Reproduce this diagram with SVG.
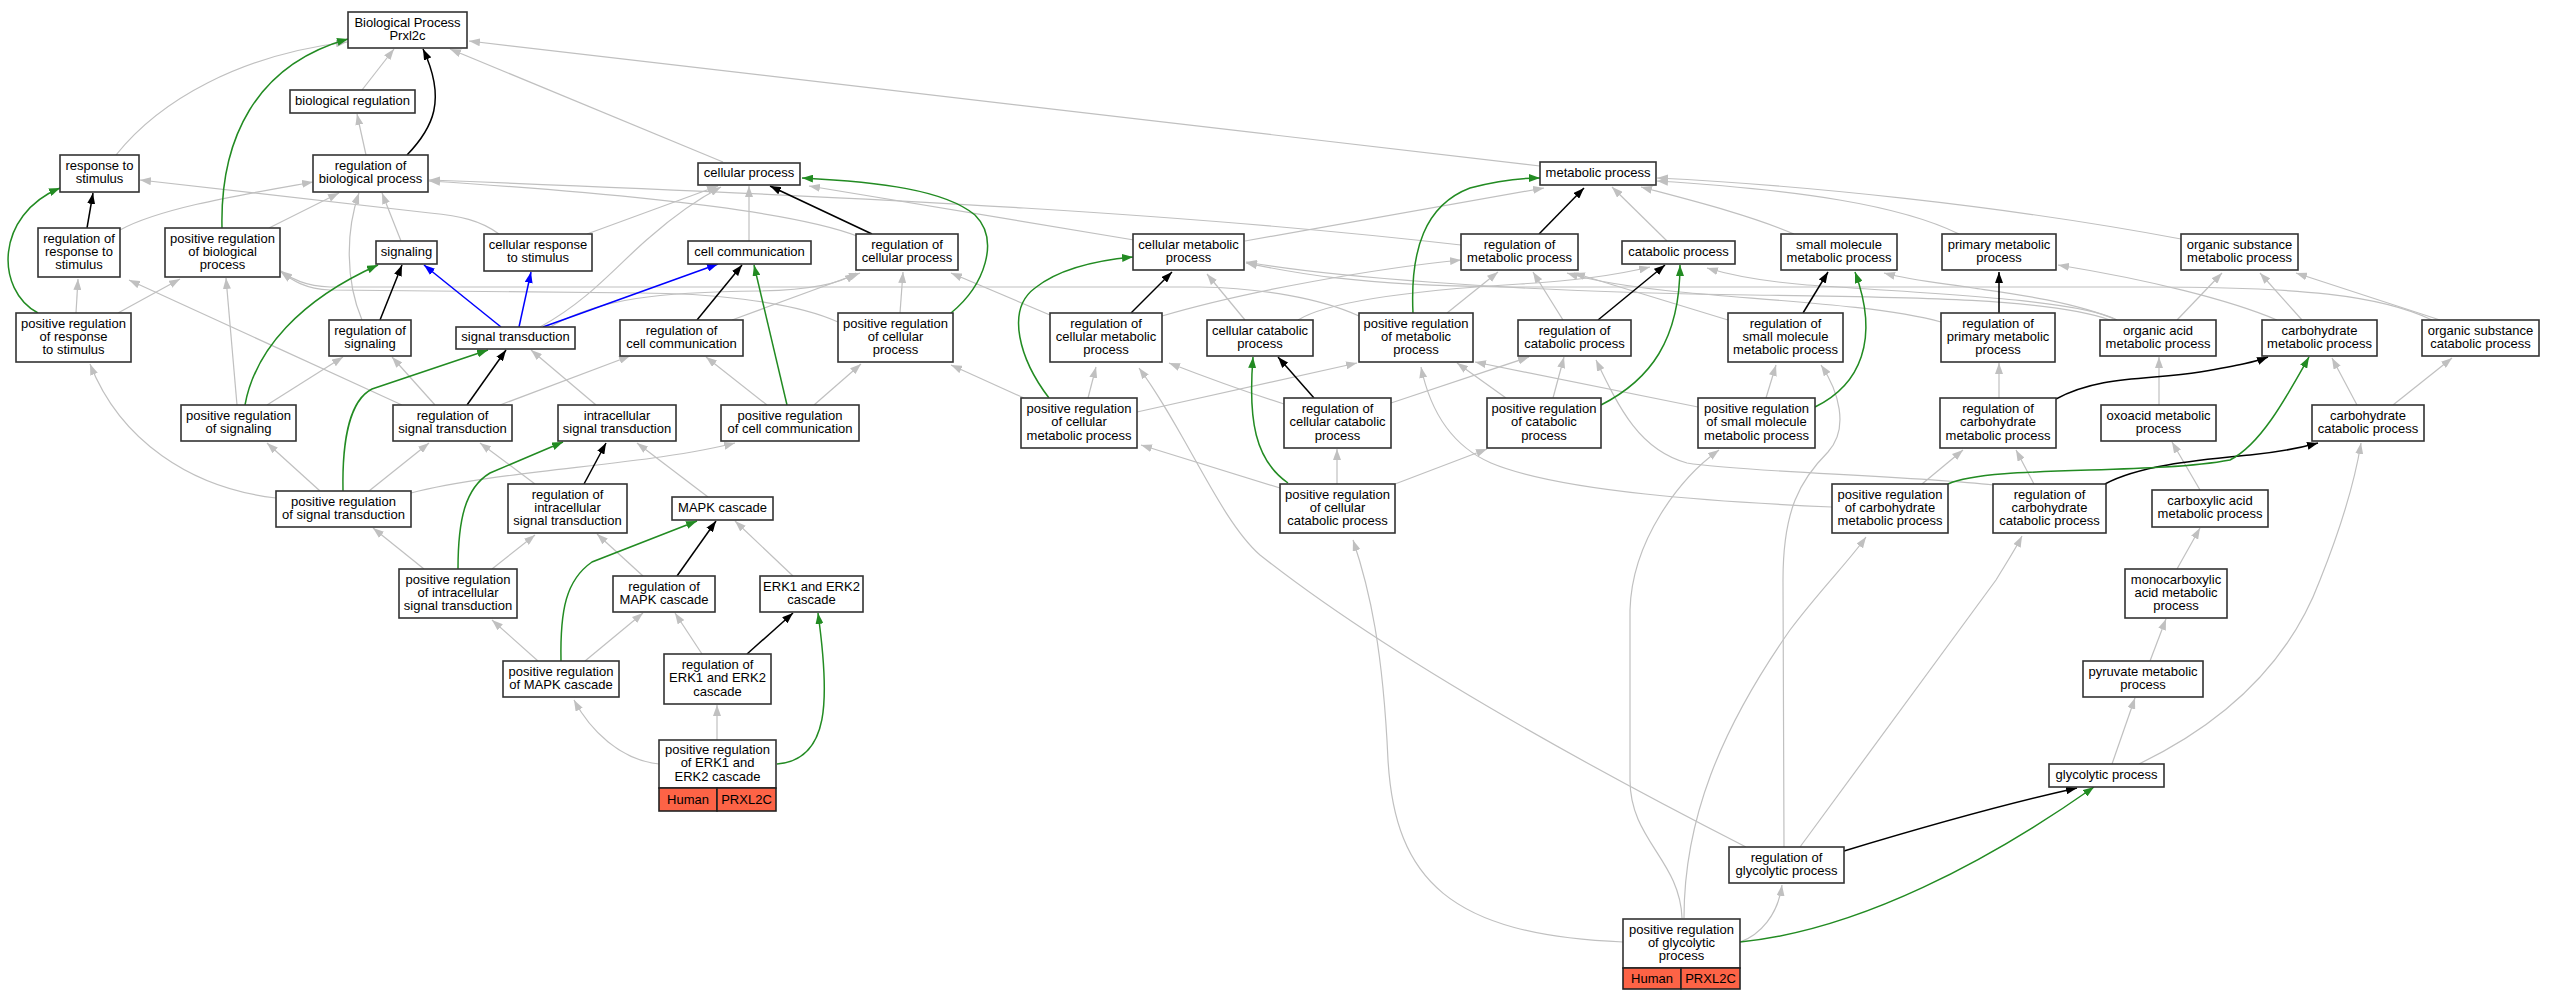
<svg xmlns="http://www.w3.org/2000/svg" width="2554" height="1000" viewBox="0 0 2554 1000">
<defs>
<style>
.n rect{fill:#fff;stroke:#333;stroke-width:1.6}
.n text{font-family:"Liberation Sans",Arial,sans-serif;font-size:13px;text-anchor:middle;fill:#000}
.n rect.lg{fill:#fd6346;stroke:#222}
.e path{fill:none}
.g{stroke:#c0c0c0;stroke-width:1.2;marker-end:url(#mg)}
.k{stroke:#000;stroke-width:1.5;marker-end:url(#mk)}
.gr{stroke:#228b22;stroke-width:1.5;marker-end:url(#mgr)}
.b{stroke:#0000ff;stroke-width:1.5;marker-end:url(#mb)}
</style>
<marker id="mg" viewBox="0 0 11 8" refX="11" refY="4" markerWidth="11" markerHeight="8" markerUnits="userSpaceOnUse" orient="auto"><path d="M0,0 L11,4 L0,8 z" fill="#c0c0c0"/></marker>
<marker id="mk" viewBox="0 0 11 8" refX="11" refY="4" markerWidth="11" markerHeight="8" markerUnits="userSpaceOnUse" orient="auto"><path d="M0,0 L11,4 L0,8 z" fill="#000"/></marker>
<marker id="mgr" viewBox="0 0 11 8" refX="11" refY="4" markerWidth="11" markerHeight="8" markerUnits="userSpaceOnUse" orient="auto"><path d="M0,0 L11,4 L0,8 z" fill="#228b22"/></marker>
<marker id="mb" viewBox="0 0 11 8" refX="11" refY="4" markerWidth="11" markerHeight="8" markerUnits="userSpaceOnUse" orient="auto"><path d="M0,0 L11,4 L0,8 z" fill="#0000ff"/></marker>
</defs>
<rect x="0" y="0" width="2554" height="1000" fill="#fff"/>
<g id="edges" class="e">
<path class="g" d="M362,90 L394,49"/>
<path class="g" d="M366,155 L357,114"/>
<path class="g" d="M116,155 C160,100 240,55 347,42"/>
<path class="g" d="M1540,166 L469,41"/>
<path class="g" d="M723,162 L450,49"/>
<path class="g" d="M499,234 C480,220 460,216 430,213 L140,180"/>
<path class="g" d="M120,230 C160,208 240,195 313,182"/>
<path class="g" d="M269,228 L339,193"/>
<path class="g" d="M362,320 C345,280 346,230 359,193"/>
<path class="g" d="M401,241 L382,193"/>
<path class="g" d="M857,236 C800,214 650,195 429,181"/>
<path class="g" d="M1461,245 C1200,215 900,198 429,180"/>
<path class="g" d="M587,234 L718,186"/>
<path class="g" d="M540,327 C590,300 620,262 650,237 C675,215 700,198 721,187"/>
<path class="g" d="M749,241 L749,186"/>
<path class="g" d="M1134,240 L809,186"/>
<path class="g" d="M1245,241 L1544,188"/>
<path class="g" d="M1667,241 L1612,187"/>
<path class="g" d="M1794,234 C1750,215 1690,200 1641,187"/>
<path class="g" d="M1959,234 C1900,205 1800,190 1657,181"/>
<path class="g" d="M2181,239 C2000,205 1800,185 1657,178"/>
<path class="g" d="M732,320 L860,273"/>
<path class="g" d="M550,327 C600,298 660,292 760,291 C810,290 840,284 856,273"/>
<path class="g" d="M900,313 L903,272"/>
<path class="g" d="M1050,315 L951,273"/>
<path class="g" d="M1245,320 L1207,274"/>
<path class="g" d="M2110,320 C2050,298 1900,297 1750,295 C1500,292 1320,275 1246,262"/>
<path class="g" d="M2432,320 C2380,295 2300,287 2150,287 L1500,287 C1350,285 1290,272 1246,263"/>
<path class="g" d="M1162,316 C1250,290 1380,268 1461,260"/>
<path class="g" d="M1447,313 L1498,272"/>
<path class="g" d="M1563,320 L1533,272"/>
<path class="g" d="M1728,320 L1574,273"/>
<path class="g" d="M1941,322 C1880,305 1760,300 1680,292 C1620,286 1590,280 1567,273"/>
<path class="g" d="M1298,320 C1330,300 1420,290 1520,284 C1590,280 1625,273 1650,267"/>
<path class="g" d="M2117,320 C2080,300 1940,294 1807,285 C1760,281 1730,275 1707,268"/>
<path class="g" d="M2117,320 C2070,300 2000,292 1973,288 C1940,283 1910,280 1884,273"/>
<path class="g" d="M2177,320 L2222,273"/>
<path class="g" d="M2302,320 L2260,273"/>
<path class="g" d="M2277,320 C2230,300 2150,280 2058,265"/>
<path class="g" d="M2440,320 L2296,273"/>
<path class="g" d="M2357,405 L2332,358"/>
<path class="g" d="M2393,405 L2452,358"/>
<path class="g" d="M2159,405 L2159,357"/>
<path class="g" d="M2200,490 L2172,442"/>
<path class="g" d="M2177,569 L2200,528"/>
<path class="g" d="M2150,661 L2166,619"/>
<path class="g" d="M2112,764 L2135,698"/>
<path class="g" d="M2139,764 C2230,720 2290,660 2320,580 C2340,530 2355,480 2361,443"/>
<path class="g" d="M1999,398 L1999,363"/>
<path class="g" d="M1922,484 L1963,450"/>
<path class="g" d="M1832,507 C1720,502 1560,492 1491,463 C1450,445 1430,410 1421,367"/>
<path class="g" d="M2034,484 L2016,450"/>
<path class="g" d="M1994,485 C1900,475 1740,472 1687,463 C1640,450 1620,410 1596,360"/>
<path class="g" d="M1766,398 L1776,365"/>
<path class="g" d="M1698,407 L1475,362"/>
<path class="g" d="M1784,847 L1783,580 C1783,510 1800,480 1828,452 C1850,428 1838,390 1821,365"/>
<path class="g" d="M1746,847 C1560,752 1380,650 1260,555 C1220,520 1185,430 1139,368"/>
<path class="g" d="M1800,847 L1996,580 C2005,565 2015,550 2022,536"/>
<path class="g" d="M1740,942 C1760,935 1778,915 1782,885"/>
<path class="g" d="M1623,942 C1450,935 1395,880 1388,760 C1383,650 1370,590 1353,540"/>
<path class="g" d="M1682,918 C1680,860 1630,840 1630,780 L1630,610 C1632,540 1680,478 1719,450"/>
<path class="g" d="M1684,918 C1684,820 1720,730 1790,630 C1820,590 1850,560 1866,537"/>
<path class="g" d="M1337,484 L1337,449"/>
<path class="g" d="M1280,488 L1141,445"/>
<path class="g" d="M1395,484 L1487,449"/>
<path class="g" d="M1391,403 L1529,357"/>
<path class="g" d="M1284,404 C1240,390 1200,375 1169,363"/>
<path class="g" d="M1553,398 L1564,357"/>
<path class="g" d="M1506,398 L1457,363"/>
<path class="g" d="M1088,398 L1096,367"/>
<path class="g" d="M1024,398 L951,365"/>
<path class="g" d="M1137,412 L1357,363"/>
<path class="g" d="M1359,316 C1320,298 1260,288 1200,287 L330,287 C305,286 292,279 281,271"/>
<path class="g" d="M838,322 C790,300 700,293 640,293 L330,290 C305,289 292,280 281,272"/>
<path class="g" d="M76,313 L78,279"/>
<path class="g" d="M118,313 L180,279"/>
<path class="g" d="M267,405 L343,357"/>
<path class="g" d="M237,405 L226,278"/>
<path class="g" d="M435,405 L392,357"/>
<path class="g" d="M500,405 L630,356"/>
<path class="g" d="M402,405 L129,280"/>
<path class="g" d="M320,491 L267,443"/>
<path class="g" d="M369,491 L429,443"/>
<path class="g" d="M276,498 C190,488 120,440 90,364"/>
<path class="g" d="M411,493 C500,470 650,465 735,443"/>
<path class="g" d="M535,484 L480,443"/>
<path class="g" d="M492,569 L535,535"/>
<path class="g" d="M424,569 L373,528"/>
<path class="g" d="M596,405 L531,350"/>
<path class="g" d="M708,497 L637,443"/>
<path class="g" d="M585,661 L643,613"/>
<path class="g" d="M538,661 L492,620"/>
<path class="g" d="M643,576 L597,534"/>
<path class="g" d="M793,576 L735,521"/>
<path class="g" d="M702,654 L675,613"/>
<path class="g" d="M717,740 L717,705"/>
<path class="g" d="M659,764 C620,760 590,730 574,700"/>
<path class="g" d="M767,405 L706,357"/>
<path class="g" d="M814,405 L861,364"/>
<path class="k" d="M407,155 C433,128 447,100 423,49"/>
<path class="k" d="M87,228 L93,193"/>
<path class="k" d="M380,320 L402,265"/>
<path class="k" d="M467,405 L506,350"/>
<path class="k" d="M584,484 L606,443"/>
<path class="k" d="M677,576 L716,521"/>
<path class="k" d="M747,654 L793,613"/>
<path class="k" d="M697,320 L742,265"/>
<path class="k" d="M872,234 L770,186"/>
<path class="k" d="M1131,313 L1172,272"/>
<path class="k" d="M1314,398 L1278,357"/>
<path class="k" d="M1539,234 L1584,188"/>
<path class="k" d="M1598,320 L1665,265"/>
<path class="k" d="M1803,313 L1828,272"/>
<path class="k" d="M1999,313 L1999,272"/>
<path class="k" d="M2056,399 C2100,375 2150,380 2200,372 C2240,365 2255,362 2268,357"/>
<path class="k" d="M2105,484 C2140,465 2200,460 2250,455 C2280,452 2300,448 2318,443"/>
<path class="k" d="M1844,851 C1930,825 2000,805 2077,788"/>
<path class="gr" d="M222,228 C220,140 255,65 348,39"/>
<path class="gr" d="M38,313 C-5,290 -5,215 60,188"/>
<path class="gr" d="M245,405 C255,350 300,300 378,265"/>
<path class="gr" d="M343,491 C342,440 350,400 372,389 L488,350"/>
<path class="gr" d="M458,569 C458,520 465,488 490,473 L563,442"/>
<path class="gr" d="M561,661 C560,610 566,580 592,562 L697,521"/>
<path class="gr" d="M777,764 C830,760 830,700 818,613"/>
<path class="gr" d="M787,405 L754,265"/>
<path class="gr" d="M951,313 C985,285 1000,240 975,215 C945,190 880,182 802,178"/>
<path class="gr" d="M1049,398 C1020,360 1005,310 1035,288 C1060,268 1100,260 1133,257"/>
<path class="gr" d="M1413,313 C1410,250 1425,205 1470,188 C1500,180 1520,178 1540,178"/>
<path class="gr" d="M1288,483 C1255,460 1248,420 1253,357"/>
<path class="gr" d="M1601,405 C1650,380 1680,340 1680,265"/>
<path class="gr" d="M1815,407 C1860,385 1880,340 1855,272"/>
<path class="gr" d="M1948,484 C1990,465 2150,475 2230,460 C2260,445 2285,400 2309,357"/>
<path class="gr" d="M1740,942 C1860,930 1990,860 2094,787"/>
<path class="b" d="M501,327 L424,265"/>
<path class="b" d="M519,327 L531,272"/>
<path class="b" d="M543,327 L718,264"/>
</g>
<g id="bp" class="n"><rect x="348" y="12" width="119" height="36"/><text x="407.5" y="26.7">Biological Process</text><text x="407.5" y="39.9">Prxl2c</text></g>
<g id="bioreg" class="n"><rect x="290" y="90" width="125" height="23"/><text x="352.5" y="104.8">biological regulation</text></g>
<g id="resp" class="n"><rect x="60" y="155" width="79" height="37"/><text x="99.5" y="170.2">response to</text><text x="99.5" y="183.4">stimulus</text></g>
<g id="regbio" class="n"><rect x="313" y="155" width="115" height="37"/><text x="370.5" y="170.2">regulation of</text><text x="370.5" y="183.4">biological process</text></g>
<g id="regresp" class="n"><rect x="38" y="228" width="82" height="49"/><text x="79" y="242.6">regulation of</text><text x="79" y="255.8">response to</text><text x="79" y="269">stimulus</text></g>
<g id="posregbio" class="n"><rect x="165" y="228" width="115" height="49"/><text x="222.5" y="242.6">positive regulation</text><text x="222.5" y="255.8">of biological</text><text x="222.5" y="269">process</text></g>
<g id="signaling" class="n"><rect x="376" y="241" width="61" height="23"/><text x="406.5" y="255.8">signaling</text></g>
<g id="cellresp" class="n"><rect x="484" y="234" width="108" height="37"/><text x="538" y="249.2">cellular response</text><text x="538" y="262.4">to stimulus</text></g>
<g id="sigtrans" class="n"><rect x="456" y="327" width="119" height="22"/><text x="515.5" y="341.3">signal transduction</text></g>
<g id="cellproc" class="n"><rect x="698" y="163" width="102" height="22"/><text x="749" y="177.3">cellular process</text></g>
<g id="cellcomm" class="n"><rect x="688" y="241" width="123" height="23"/><text x="749.5" y="255.8">cell communication</text></g>
<g id="regcellproc" class="n"><rect x="856" y="234" width="102" height="36"/><text x="907" y="248.7">regulation of</text><text x="907" y="261.9">cellular process</text></g>
<g id="cellmet" class="n"><rect x="1133" y="234" width="111" height="36"/><text x="1188.5" y="248.7">cellular metabolic</text><text x="1188.5" y="261.9">process</text></g>
<g id="metproc" class="n"><rect x="1540" y="162" width="116" height="23"/><text x="1598" y="176.8">metabolic process</text></g>
<g id="regmet" class="n"><rect x="1461" y="234" width="117" height="36"/><text x="1519.5" y="248.7">regulation of</text><text x="1519.5" y="261.9">metabolic process</text></g>
<g id="catproc" class="n"><rect x="1622" y="241" width="113" height="23"/><text x="1678.5" y="255.8">catabolic process</text></g>
<g id="smallmol" class="n"><rect x="1781" y="234" width="116" height="36"/><text x="1839" y="248.7">small molecule</text><text x="1839" y="261.9">metabolic process</text></g>
<g id="primmet" class="n"><rect x="1942" y="234" width="114" height="36"/><text x="1999" y="248.7">primary metabolic</text><text x="1999" y="261.9">process</text></g>
<g id="orgsub" class="n"><rect x="2181" y="234" width="117" height="36"/><text x="2239.5" y="248.7">organic substance</text><text x="2239.5" y="261.9">metabolic process</text></g>
<g id="posregresp" class="n"><rect x="16" y="313" width="115" height="49"/><text x="73.5" y="327.6">positive regulation</text><text x="73.5" y="340.8">of response</text><text x="73.5" y="354">to stimulus</text></g>
<g id="regsig" class="n"><rect x="329" y="320" width="82" height="36"/><text x="370" y="334.7">regulation of</text><text x="370" y="347.9">signaling</text></g>
<g id="regcellcomm" class="n"><rect x="620" y="320" width="123" height="36"/><text x="681.5" y="334.7">regulation of</text><text x="681.5" y="347.9">cell communication</text></g>
<g id="posregcellproc" class="n"><rect x="838" y="313" width="115" height="49"/><text x="895.5" y="327.6">positive regulation</text><text x="895.5" y="340.8">of cellular</text><text x="895.5" y="354">process</text></g>
<g id="regcellmet" class="n"><rect x="1050" y="313" width="112" height="49"/><text x="1106" y="327.6">regulation of</text><text x="1106" y="340.8">cellular metabolic</text><text x="1106" y="354">process</text></g>
<g id="cellcat" class="n"><rect x="1207" y="320" width="106" height="36"/><text x="1260" y="334.7">cellular catabolic</text><text x="1260" y="347.9">process</text></g>
<g id="posregmet" class="n"><rect x="1359" y="313" width="114" height="49"/><text x="1416" y="327.6">positive regulation</text><text x="1416" y="340.8">of metabolic</text><text x="1416" y="354">process</text></g>
<g id="regcat" class="n"><rect x="1518" y="320" width="113" height="36"/><text x="1574.5" y="334.7">regulation of</text><text x="1574.5" y="347.9">catabolic process</text></g>
<g id="regsmall" class="n"><rect x="1728" y="313" width="115" height="49"/><text x="1785.5" y="327.6">regulation of</text><text x="1785.5" y="340.8">small molecule</text><text x="1785.5" y="354">metabolic process</text></g>
<g id="regprim" class="n"><rect x="1941" y="313" width="114" height="49"/><text x="1998" y="327.6">regulation of</text><text x="1998" y="340.8">primary metabolic</text><text x="1998" y="354">process</text></g>
<g id="orgacid" class="n"><rect x="2100" y="320" width="116" height="36"/><text x="2158" y="334.7">organic acid</text><text x="2158" y="347.9">metabolic process</text></g>
<g id="carbmet" class="n"><rect x="2262" y="320" width="115" height="36"/><text x="2319.5" y="334.7">carbohydrate</text><text x="2319.5" y="347.9">metabolic process</text></g>
<g id="orgsubcat" class="n"><rect x="2422" y="320" width="117" height="36"/><text x="2480.5" y="334.7">organic substance</text><text x="2480.5" y="347.9">catabolic process</text></g>
<g id="posregsig" class="n"><rect x="181" y="405" width="115" height="36"/><text x="238.5" y="419.7">positive regulation</text><text x="238.5" y="432.9">of signaling</text></g>
<g id="regsigtrans" class="n"><rect x="393" y="405" width="119" height="36"/><text x="452.5" y="419.7">regulation of</text><text x="452.5" y="432.9">signal transduction</text></g>
<g id="intrasig" class="n"><rect x="558" y="405" width="118" height="36"/><text x="617" y="419.7">intracellular</text><text x="617" y="432.9">signal transduction</text></g>
<g id="posregcellcomm" class="n"><rect x="721" y="405" width="138" height="36"/><text x="790" y="419.7">positive regulation</text><text x="790" y="432.9">of cell communication</text></g>
<g id="posregcellmet" class="n"><rect x="1021" y="398" width="116" height="50"/><text x="1079" y="413.1">positive regulation</text><text x="1079" y="426.3">of cellular</text><text x="1079" y="439.5">metabolic process</text></g>
<g id="regcellcat" class="n"><rect x="1284" y="398" width="107" height="50"/><text x="1337.5" y="413.1">regulation of</text><text x="1337.5" y="426.3">cellular catabolic</text><text x="1337.5" y="439.5">process</text></g>
<g id="posregcat" class="n"><rect x="1487" y="398" width="114" height="50"/><text x="1544" y="413.1">positive regulation</text><text x="1544" y="426.3">of catabolic</text><text x="1544" y="439.5">process</text></g>
<g id="posregsmall" class="n"><rect x="1698" y="398" width="117" height="50"/><text x="1756.5" y="413.1">positive regulation</text><text x="1756.5" y="426.3">of small molecule</text><text x="1756.5" y="439.5">metabolic process</text></g>
<g id="regcarbmet" class="n"><rect x="1940" y="398" width="116" height="50"/><text x="1998" y="413.1">regulation of</text><text x="1998" y="426.3">carbohydrate</text><text x="1998" y="439.5">metabolic process</text></g>
<g id="oxoacid" class="n"><rect x="2101" y="405" width="115" height="36"/><text x="2158.5" y="419.7">oxoacid metabolic</text><text x="2158.5" y="432.9">process</text></g>
<g id="carbcat" class="n"><rect x="2312" y="405" width="112" height="36"/><text x="2368" y="419.7">carbohydrate</text><text x="2368" y="432.9">catabolic process</text></g>
<g id="posregsigtrans" class="n"><rect x="276" y="491" width="135" height="36"/><text x="343.5" y="505.7">positive regulation</text><text x="343.5" y="518.9">of signal transduction</text></g>
<g id="regintrasig" class="n"><rect x="508" y="484" width="119" height="49"/><text x="567.5" y="498.6">regulation of</text><text x="567.5" y="511.8">intracellular</text><text x="567.5" y="525">signal transduction</text></g>
<g id="mapk" class="n"><rect x="672" y="497" width="101" height="23"/><text x="722.5" y="511.8">MAPK cascade</text></g>
<g id="posregcellcat" class="n"><rect x="1280" y="484" width="115" height="49"/><text x="1337.5" y="498.6">positive regulation</text><text x="1337.5" y="511.8">of cellular</text><text x="1337.5" y="525">catabolic process</text></g>
<g id="posregcarbmet" class="n"><rect x="1832" y="484" width="116" height="49"/><text x="1890" y="498.6">positive regulation</text><text x="1890" y="511.8">of carbohydrate</text><text x="1890" y="525">metabolic process</text></g>
<g id="regcarbcat" class="n"><rect x="1993" y="484" width="113" height="49"/><text x="2049.5" y="498.6">regulation of</text><text x="2049.5" y="511.8">carbohydrate</text><text x="2049.5" y="525">catabolic process</text></g>
<g id="carboxy" class="n"><rect x="2152" y="490" width="116" height="37"/><text x="2210" y="505.2">carboxylic acid</text><text x="2210" y="518.4">metabolic process</text></g>
<g id="posregintrasig" class="n"><rect x="399" y="569" width="118" height="49"/><text x="458" y="583.6">positive regulation</text><text x="458" y="596.8">of intracellular</text><text x="458" y="610">signal transduction</text></g>
<g id="regmapk" class="n"><rect x="613" y="576" width="102" height="36"/><text x="664" y="590.7">regulation of</text><text x="664" y="603.9">MAPK cascade</text></g>
<g id="erk" class="n"><rect x="760" y="576" width="103" height="36"/><text x="811.5" y="590.7">ERK1 and ERK2</text><text x="811.5" y="603.9">cascade</text></g>
<g id="monocarb" class="n"><rect x="2125" y="569" width="102" height="49"/><text x="2176" y="583.6">monocarboxylic</text><text x="2176" y="596.8">acid metabolic</text><text x="2176" y="610">process</text></g>
<g id="posregmapk" class="n"><rect x="503" y="661" width="116" height="36"/><text x="561" y="675.7">positive regulation</text><text x="561" y="688.9">of MAPK cascade</text></g>
<g id="regerk" class="n"><rect x="664" y="654" width="107" height="50"/><text x="717.5" y="669.1">regulation of</text><text x="717.5" y="682.3">ERK1 and ERK2</text><text x="717.5" y="695.5">cascade</text></g>
<g id="pyruvate" class="n"><rect x="2083" y="661" width="120" height="36"/><text x="2143" y="675.7">pyruvate metabolic</text><text x="2143" y="688.9">process</text></g>
<g id="posregerk" class="n"><rect x="659" y="740" width="117" height="48"/><text x="717.5" y="754.1">positive regulation</text><text x="717.5" y="767.3">of ERK1 and</text><text x="717.5" y="780.5">ERK2 cascade</text><rect class="lg" x="659" y="788" width="58" height="23"/><rect class="lg" x="717" y="788" width="59" height="23"/><text x="688" y="803.5">Human</text><text x="746.5" y="803.5">PRXL2C</text></g>
<g id="glyco" class="n"><rect x="2049" y="764" width="115" height="23"/><text x="2106.5" y="778.8">glycolytic process</text></g>
<g id="regglyco" class="n"><rect x="1729" y="847" width="115" height="36"/><text x="1786.5" y="861.7">regulation of</text><text x="1786.5" y="874.9">glycolytic process</text></g>
<g id="posregglyco" class="n"><rect x="1623" y="919" width="117" height="49"/><text x="1681.5" y="933.6">positive regulation</text><text x="1681.5" y="946.8">of glycolytic</text><text x="1681.5" y="960">process</text><rect class="lg" x="1623" y="968" width="58" height="21"/><rect class="lg" x="1681" y="968" width="59" height="21"/><text x="1652" y="982.5">Human</text><text x="1710.5" y="982.5">PRXL2C</text></g>
</svg>
